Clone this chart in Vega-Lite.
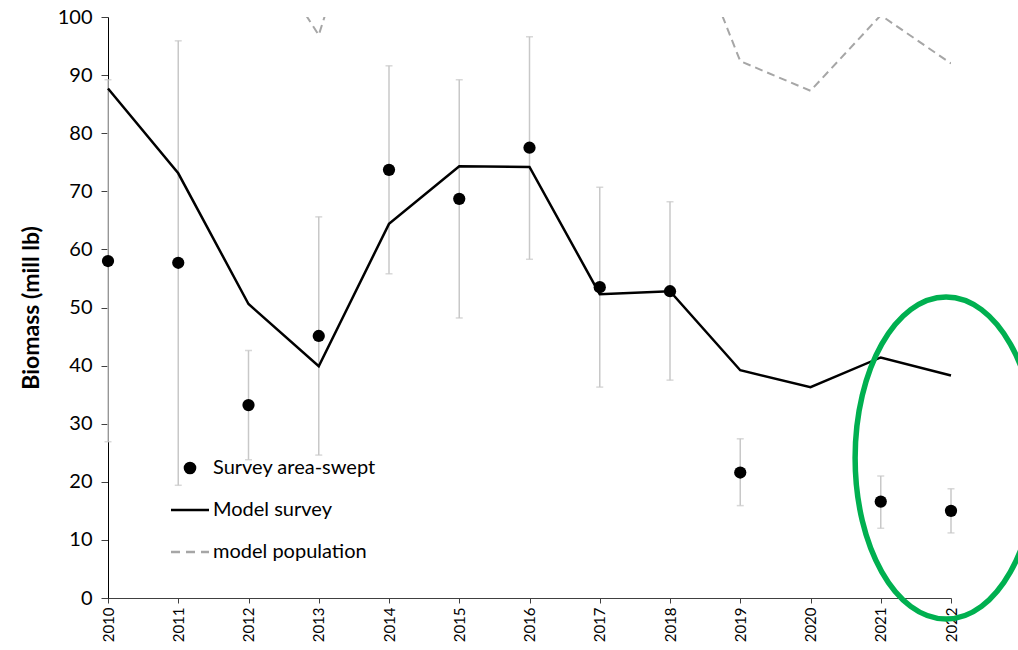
{
  "$schema": "https://vega.github.io/schema/vega-lite/v6.json",
  "width": 843,
  "height": 581,
  "autosize": {"type": "none"},
  "padding": {"left": 108, "top": 17, "right": 67, "bottom": 52},
  "background": "white",
  "datasets": {
    "biomass": [
      {"year": 2010, "survey": 58.0, "lo": 26.9, "hi": 89.2, "model": 87.7, "pop": 150},
      {"year": 2011, "survey": 57.7, "lo": 19.4, "hi": 95.9, "model": 73.1, "pop": 130},
      {"year": 2012, "survey": 33.2, "lo": 23.8, "hi": 42.6, "model": 50.6, "pop": 115.7},
      {"year": 2013, "survey": 45.1, "lo": 24.6, "hi": 65.6, "model": 39.9, "pop": 96.9},
      {"year": 2014, "survey": 73.7, "lo": 55.8, "hi": 91.6, "model": 64.4, "pop": 135},
      {"year": 2015, "survey": 68.7, "lo": 48.2, "hi": 89.2, "model": 74.3, "pop": 150},
      {"year": 2016, "survey": 77.5, "lo": 58.3, "hi": 96.6, "model": 74.2, "pop": 145},
      {"year": 2017, "survey": 53.5, "lo": 36.3, "hi": 70.7, "model": 52.3, "pop": 125},
      {"year": 2018, "survey": 52.8, "lo": 37.5, "hi": 68.2, "model": 52.8, "pop": 123},
      {"year": 2019, "survey": 21.6, "lo": 15.9, "hi": 27.4, "model": 39.2, "pop": 92.4},
      {"year": 2020, "survey": null, "lo": null, "hi": null, "model": 36.3, "pop": 87.3},
      {"year": 2021, "survey": 16.6, "lo": 12.0, "hi": 21.0, "model": 41.4, "pop": 100.3},
      {"year": 2022, "survey": 15.0, "lo": 11.2, "hi": 18.8, "model": 38.3, "pop": 92.0}
    ],
    "highlight": [
      {"year": 2021.93, "value": 24.1}
    ]
  },
  "data": {"name": "biomass"},
  "encoding": {
    "x": {
      "field": "year",
      "type": "quantitative",
      "scale": {"domain": [2010, 2022], "nice": false, "zero": false},
      "axis": {
        "title": null,
        "values": [2010, 2011, 2012, 2013, 2014, 2015, 2016, 2017, 2018, 2019, 2020, 2021, 2022],
        "format": "d",
        "labelAngle": -90,
        "labelAlign": "right",
        "labelBaseline": "middle",
        "labelFontSize": 15,
        "labelPadding": 4,
        "grid": false,
        "domainColor": "#404040",
        "tickColor": "#404040",
        "tickSize": 5,
        "labelColor": "#000000"
      }
    }
  },
  "layer": [
    {
      "transform": [{"filter": "datum.hi != null"}],
      "mark": {"type": "rule", "color": "#C8C8C8", "strokeWidth": 1.5},
      "encoding": {
        "y": {
          "field": "lo",
          "type": "quantitative",
          "scale": {"domain": [0, 100], "nice": false},
          "axis": {
            "title": "Biomass (mill lb)",
            "titleFontSize": 23,
            "titleFontWeight": "bold",
            "titleColor": "#000000",
            "titlePadding": 14,
            "values": [0, 10, 20, 30, 40, 50, 60, 70, 80, 90, 100],
            "labelFontSize": 20,
            "labelColor": "#000000",
            "labelPadding": 9,
            "grid": false,
            "domainColor": "#000000",
            "tickColor": "#404040",
            "tickSize": 7
          }
        },
        "y2": {"field": "hi"}
      }
    },
    {
      "transform": [{"filter": "datum.hi != null"}],
      "mark": {"type": "tick", "color": "#C8C8C8", "orient": "horizontal", "size": 7, "thickness": 1.5},
      "encoding": {"y": {"field": "hi", "type": "quantitative", "scale": {"domain": [0, 100]}}}
    },
    {
      "transform": [{"filter": "datum.lo != null"}],
      "mark": {"type": "tick", "color": "#C8C8C8", "orient": "horizontal", "size": 7, "thickness": 1.5},
      "encoding": {"y": {"field": "lo", "type": "quantitative", "scale": {"domain": [0, 100]}}}
    },
    {
      "mark": {"type": "line", "strokeWidth": 2, "strokeDash": [8, 5], "clip": true},
      "encoding": {
        "y": {"field": "pop", "type": "quantitative", "scale": {"domain": [0, 100]}},
        "color": {
          "datum": "model population",
          "scale": {
            "domain": ["Survey area-swept", "Model survey", "model population"],
            "range": ["#000000", "#000000", "#A6A6A6"]
          },
          "legend": {
            "title": null,
            "orient": "none",
            "legendX": 72,
            "legendY": 441,
            "labelFontSize": 20,
            "labelColor": "#000000",
            "labelOffset": 13,
            "symbolSize": 1444,
            "rowPadding": 22,
            "symbolStrokeWidth": 2.5,
            "labelLimit": 300,
            "encode": {
              "symbols": {
                "update": {
                  "shape": {"signal": "datum.value === 'Survey area-swept' ? 'circle' : 'M -1 0 L 1 0'"},
                  "size": {"signal": "datum.value === 'Survey area-swept' ? 160 : 1444"},
                  "fill": {"signal": "datum.value === 'Survey area-swept' ? '#000000' : 'transparent'"},
                  "stroke": {"signal": "datum.value === 'model population' ? '#A6A6A6' : '#000000'"},
                  "strokeWidth": {"signal": "datum.value === 'Survey area-swept' ? 0 : 2.5"},
                  "strokeDash": {"signal": "datum.value === 'model population' ? [9, 6] : [1, 0]"},
                  "opacity": {"value": 1}
                }
              }
            }
          }
        }
      }
    },
    {
      "mark": {"type": "line", "strokeWidth": 2.5},
      "encoding": {
        "y": {"field": "model", "type": "quantitative", "scale": {"domain": [0, 100]}},
        "color": {"datum": "Model survey"}
      }
    },
    {
      "transform": [{"filter": "datum.survey != null"}],
      "mark": {"type": "point", "filled": true, "opacity": 1, "size": 150},
      "encoding": {
        "y": {"field": "survey", "type": "quantitative", "scale": {"domain": [0, 100]}},
        "color": {"datum": "Survey area-swept"}
      }
    },
    {
      "data": {"name": "highlight"},
      "mark": {
        "type": "point",
        "filled": false,
        "shape": "M -0.565 0 A 0.565 1 0 1 0 0.565 0 A 0.565 1 0 1 0 -0.565 0 Z",
        "size": 103684,
        "stroke": "#00B050",
        "strokeWidth": 5.5,
        "opacity": 1,
        "clip": false
      },
      "encoding": {
        "x": {"field": "year", "type": "quantitative"},
        "y": {"field": "value", "type": "quantitative", "scale": {"domain": [0, 100]}}
      }
    }
  ],
  "config": {
    "font": "Lato",
    "view": {"stroke": null}
  }
}
